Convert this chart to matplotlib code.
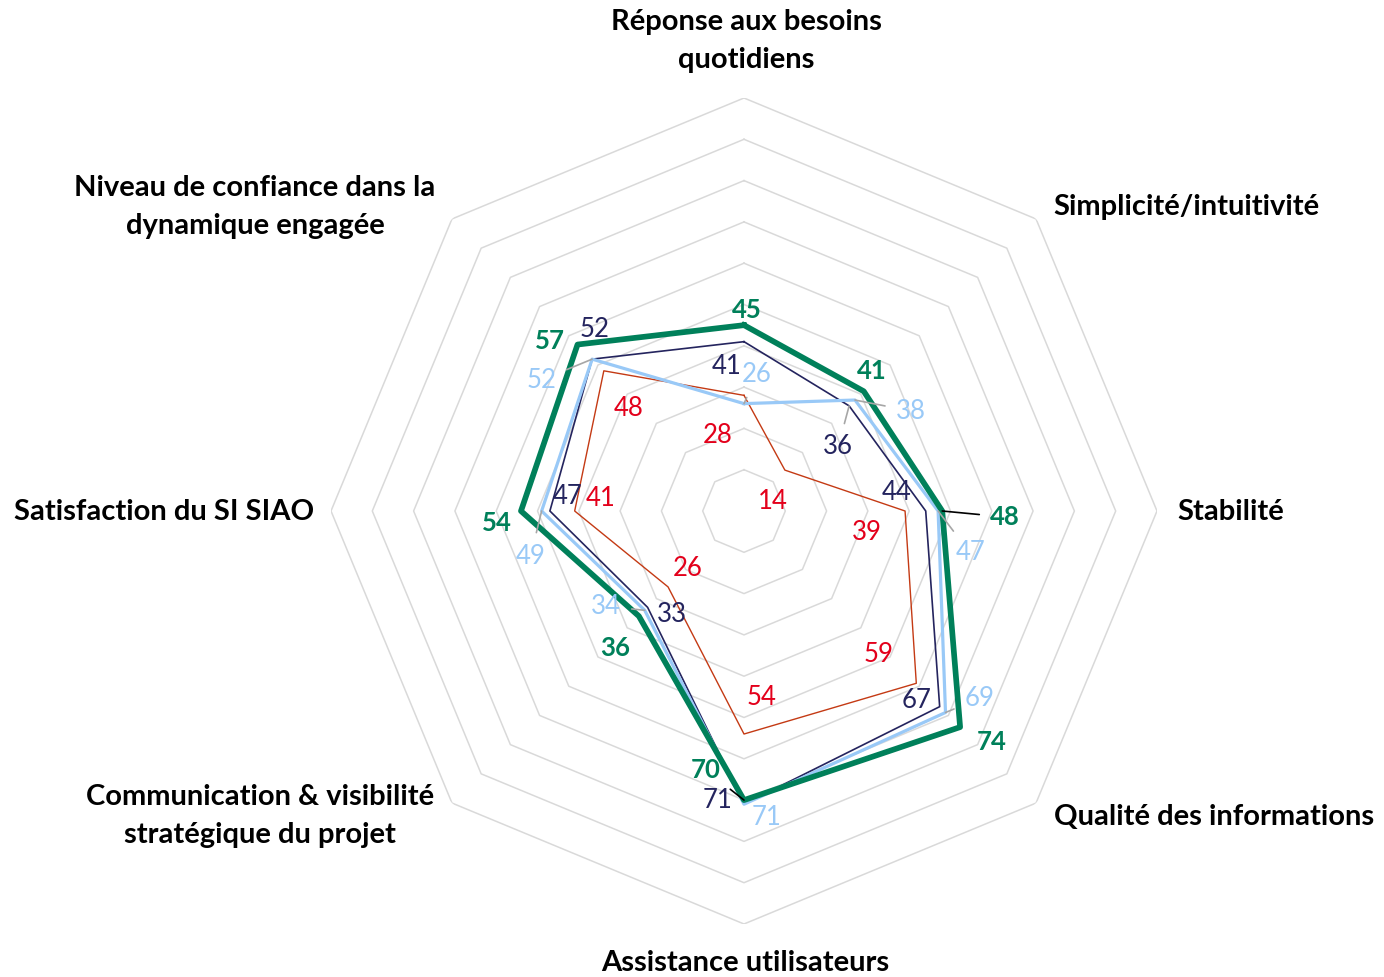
import numpy as np
import matplotlib
matplotlib.use("Agg")
import matplotlib.pyplot as plt

plt.rcParams['font.family'] = ['Lato', 'DejaVu Sans']

categories = ["Réponse aux besoins\nquotidiens", "Simplicité/intuitivité", "Stabilité",
              "Qualité des informations", "Assistance utilisateurs",
              "Communication & visibilité\nstratégique du projet", "Satisfaction du SI SIAO",
              "Niveau de confiance dans la\ndynamique engagée"]
green_vals = [45, 41, 48, 74, 70, 36, 54, 57]
navy_vals = [41, 36, 44, 67, 71, 33, 47, 52]
lightblue_vals = [26, 38, 47, 69, 71, 34, 49, 52]
red_vals = [28, 14, 39, 59, 54, 26, 41, 48]
grid_levels = [10, 20, 30, 40, 50, 60, 70, 80, 90, 100]

W, H = 1384, 977
fig = plt.figure(figsize=(W / 100, H / 100), dpi=100)
cx, cy, R = 744, 511, 413
ax = fig.add_axes([(cx - R) / W, (H - cy - R) / H, 2 * R / W, 2 * R / H], projection='polar')
ax.set_theta_offset(np.pi / 2)
ax.set_theta_direction(-1)
ax.set_ylim(0, 100)
ax.grid(False)
ax.set_xticks([])
ax.set_yticks([])
ax.spines['polar'].set_visible(False)
ax.patch.set_visible(False)

n = len(categories)
theta = np.arange(n) * 2 * np.pi / n
theta_c = np.append(theta, theta[0])

for lv in grid_levels:
    ax.plot(theta_c, [lv] * (n + 1), color='#D9D9D9', lw=1.1, zorder=1)

def closed(v):
    return list(v) + [v[0]]

GREEN, NAVY, LBLUE, REDL, REDT = '#00805A', '#24245E', '#99C9F7', '#C43A14', '#E3001B'

ax.plot(theta_c, closed(red_vals), color=REDL, lw=1.0, zorder=2)
ax.plot(theta_c, closed(navy_vals), color=NAVY, lw=1.2, zorder=3)
ax.plot(theta_c, closed(lightblue_vals), color=LBLUE, lw=2.3, zorder=4)
ax.plot(theta_c, closed(green_vals), color=GREEN, lw=4.1, zorder=5)

# label offsets in pixels (dx, dy with y up) and leader line flag
green_off = [(3, 15), (8, 20), (63, -6), (32, -15), (-38, 30), (-24, -32), (-24, -12), (-28, 4)]
green_lead = [False, False, True, False, True, False, False, False]
navy_off = [(-17, -25), (-11, -41), (-29, 19), (-23, 6), (-26, 4), (24, -7), (18, 15), (2, 30)]
navy_lead = [False, True, False, False, False, False, False, False]
lb_off = [(13, 29), (56, -11), (32, -42), (34, 14), (23, -13), (-39, 4), (-11, -45), (-51, -21)]
lb_lead = [True, True, True, True, False, True, True, True]
red_off = [(-26, -40), (-12, -31), (-38, -22), (-38, 29), (18, 37), (20, 18), (26, 12), (25, -38)]

def put_labels(vals, offs, leads, color, weight, lead_color):
    for t, v, (dx, dy), ld in zip(theta, vals, offs, leads):
        kw = {}
        if ld:
            kw['arrowprops'] = dict(arrowstyle='-', color=lead_color, lw=1.2,
                                    shrinkA=6, shrinkB=0)
        ax.annotate(str(v), xy=(t, v), xytext=(dx, dy), textcoords='offset pixels',
                    ha='center', va='center', fontsize=18.5, color=color,
                    fontweight=weight, zorder=6, annotation_clip=False, **kw)

put_labels(red_vals, red_off, [False] * n, REDT, 'normal', '#A6A6A6')
put_labels(navy_vals, navy_off, navy_lead, NAVY, 'normal', '#A6A6A6')
put_labels(lightblue_vals, lb_off, lb_lead, LBLUE, 'normal', '#A6A6A6')
put_labels(green_vals, green_off, green_lead, GREEN, 'bold', '#000000')

# category label positions (pixel centers)
cat_pos = [(746, 41), (1186, 207), (1231, 512), (1214, 817), (745, 963),
           (260, 816), (164, 512), (255, 207)]
for txt, (px, py) in zip(categories, cat_pos):
    fig.text(px / W, 1 - py / H, txt, ha='center', va='center', fontsize=21,
             fontweight='bold', color='black', linespacing=1.55)

fig.savefig('out.png', dpi=100)
